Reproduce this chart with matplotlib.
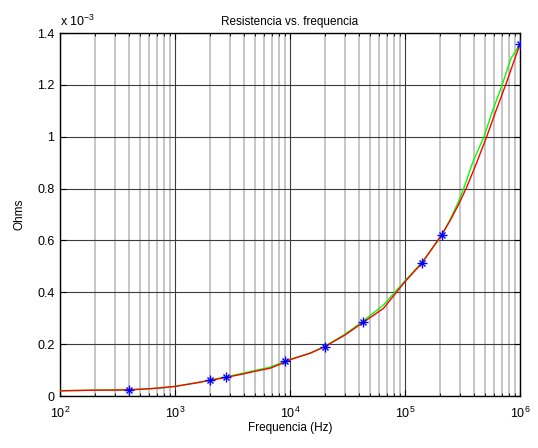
import numpy as np
import matplotlib
matplotlib.use("Agg")
import matplotlib.pyplot as plt
from matplotlib.ticker import FuncFormatter, LogLocator, FixedLocator

plt.rcParams['font.family'] = ['Liberation Sans', 'DejaVu Sans']
plt.rcParams['mathtext.fontset'] = 'custom'
plt.rcParams['mathtext.rm'] = 'Liberation Sans'
plt.rcParams['mathtext.it'] = 'Liberation Sans'

SCALE = 1e-3

# measured points (Hz, Ohms)
f_meas = [400, 2000, 2800, 9000, 20000, 43000, 140000, 208000, 1000000]
r_meas = [0.023e-3, 0.062e-3, 0.074e-3, 0.135e-3, 0.190e-3, 0.284e-3,
          0.512e-3, 0.622e-3, 1.356e-3]

# fitted model (red), in units of 1e-3 Ohm
f_red = [100, 150, 200, 300, 400, 500, 700, 1000, 1500, 2000, 2800, 4000,
         4800, 6700, 9000, 10000, 15000, 20000, 30000, 43000, 65000,
         100000, 140000, 208000, 250000, 291000, 340000, 420000, 513000,
         618000, 750000, 900000, 1000000]
r_red = [0.0200, 0.0215, 0.0225, 0.0230, 0.0240, 0.0260, 0.0300, 0.0370,
         0.0500, 0.0600, 0.0720, 0.0860, 0.0940, 0.1070, 0.1300, 0.1400,
         0.1650, 0.1900, 0.2350, 0.2830, 0.3380, 0.4410, 0.5120, 0.6210,
         0.6810, 0.7370, 0.8000, 0.9000, 1.0000, 1.1000, 1.2000, 1.3000,
         1.3570]

# interpolated curve (green), in units of 1e-3 Ohm
f_grn = [100, 150, 200, 300, 400, 500, 700, 1000, 1500, 2000, 2800, 4000,
         4800, 6700, 9000, 10000, 15000, 20000, 30000, 43000, 65000,
         100000, 140000, 208000, 250000, 291000, 321000, 387000, 486000,
         578000, 700000, 830000, 1000000]
r_grn = [0.0200, 0.0215, 0.0225, 0.0230, 0.0240, 0.0260, 0.0300, 0.0370,
         0.0500, 0.0610, 0.0740, 0.0890, 0.0970, 0.1110, 0.1330, 0.1410,
         0.1660, 0.1910, 0.2380, 0.2880, 0.3510, 0.4440, 0.5150, 0.6180,
         0.6860, 0.7480, 0.7950, 0.9000, 1.0000, 1.1000, 1.2000, 1.3000,
         1.3570]

r_red = [v * SCALE for v in r_red]
r_grn = [v * SCALE for v in r_grn]

fig = plt.figure(figsize=(5.38, 4.48), dpi=100)
ax = fig.add_axes([60/538, 52/448, 460/538, 363/448])

ax.semilogx(f_grn, r_grn, color='#00ff00', lw=1.0, zorder=3)
ax.semilogx(f_red, r_red, color='#ff0000', lw=1.0, zorder=4)
# asterisk markers: plus + cross on top of each other
ax.plot(f_meas, r_meas, ls='none', marker='+', ms=7, mew=1.0, color='#0000ff', zorder=5)
ax.plot(f_meas, r_meas, ls='none', marker='x', ms=5, mew=1.0, color='#0000ff', zorder=5)

ax.set_xlim(1e2, 1e6)
ax.set_ylim(0, 1.4e-3)

ax.xaxis.set_major_locator(LogLocator(base=10, numticks=10))
ax.xaxis.set_minor_locator(LogLocator(base=10, subs=np.arange(2, 10), numticks=50))
ax.xaxis.set_major_formatter(FuncFormatter(lambda v, p: r'$10^{%d}$' % round(np.log10(v))))
ax.xaxis.set_minor_formatter(FuncFormatter(lambda v, p: ''))
ax.yaxis.set_major_locator(FixedLocator(np.arange(0, 1.41e-3, 0.2e-3)))
ax.yaxis.set_major_formatter(FuncFormatter(lambda v, p: ('%g' % round(v / SCALE, 1))))

ax.grid(True, which='major', color='#3c3c3c', lw=0.8, zorder=1)
ax.grid(True, which='minor', axis='x', color='#c0c0c0', lw=1.3, zorder=1)
ax.set_axisbelow(True)

ax.tick_params(which='both', direction='in', top=True, right=True, labelsize=9,
               color='black')
ax.tick_params(axis='y', pad=4)
ax.tick_params(axis='x', pad=7)
ax.tick_params(which='major', length=4, width=0.8)
ax.tick_params(which='minor', length=2.5, width=0.6)
for s in ax.spines.values():
    s.set_linewidth(1.0)
    s.set_color('black')

ax.text(0.0, 1.012, r'x 10$^{-3}$', transform=ax.transAxes, fontsize=9,
        ha='left', va='bottom')
ax.set_title('Resistencia vs. frequencia', fontsize=8.5, pad=6)
ax.set_xlabel('Frequencia (Hz)', fontsize=8.5, labelpad=1)
ax.set_ylabel('Ohms', fontsize=8.5, labelpad=8)

fig.savefig('out.png', dpi=100)
